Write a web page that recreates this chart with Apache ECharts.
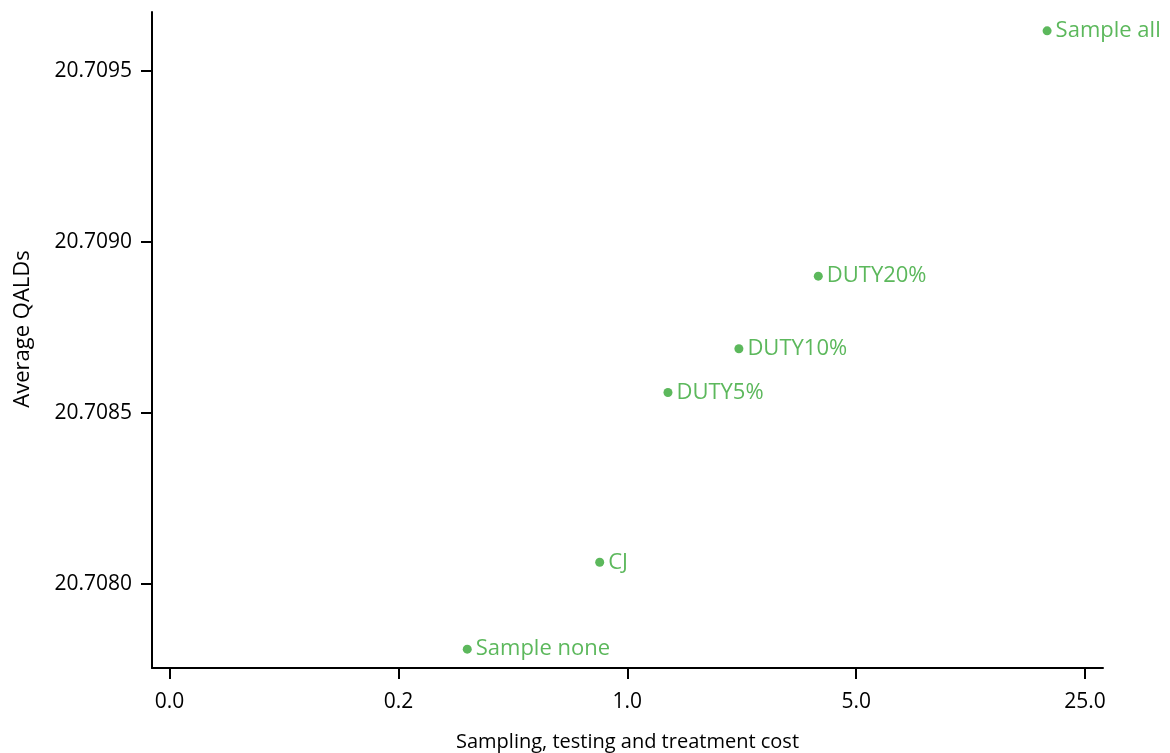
<!DOCTYPE html>
<html>
<head>
<meta charset="utf-8">
<script src="https://cdn.jsdelivr.net/npm/echarts@6/dist/echarts.min.js"></script>
<style>html,body{margin:0;padding:0;background:#fff;}#c{width:1170px;height:753px;}</style>
</head>
<body>
<div id="c"></div>
<script>
var names = ['Sample none', 'CJ', 'DUTY5%', 'DUTY10%', 'DUTY20%', 'Sample all'];
var costs = [0.3245, 0.8236, 1.331, 2.192, 3.831, 19.15];
var qalds = [20.70781, 20.708064, 20.70856, 20.708688, 20.70890, 20.709617];
var xTicks = [0.04, 0.2, 1, 5, 25];
var yTicks = [20.7080, 20.7085, 20.7090, 20.7095];

var green = '#5cb85c';
var font = 'Open Sans';
var data = names.map(function (n, i) { return { name: n, value: [costs[i], qalds[i]] }; });

var chart = echarts.init(document.getElementById('c'));
chart.setOption({
  animation: false,
  grid: { left: 152, right: 67, top: 12, bottom: 85, containLabel: false, outerBoundsMode: 'none' },
  xAxis: {
    type: 'log', logBase: 5, min: 0.03535, max: 28.37,
    name: 'Sampling, testing and treatment cost', nameLocation: 'middle', nameGap: 64,
    nameTextStyle: { fontFamily: font, fontSize: 20, color: '#000' },
    axisLine: { show: true, lineStyle: { color: '#000', width: 2 } },
    axisTick: { show: true, length: 11, lineStyle: { color: '#000', width: 2 }, customValues: xTicks },
    axisLabel: { fontFamily: font, fontSize: 21, color: '#000', margin: 24, customValues: xTicks,
      formatter: function (v) { return Number(v).toFixed(1); } },
    splitLine: { show: false }
  },
  yAxis: {
    type: 'value', min: 20.707755, max: 20.709672, scale: true,
    name: 'Average QALDs', nameLocation: 'middle', nameGap: 118,
    nameTextStyle: { fontFamily: font, fontSize: 22, color: '#000', padding: [0, 0, 0, 22] },
    axisLine: { show: true, lineStyle: { color: '#000', width: 2 } },
    axisTick: { show: true, length: 11, lineStyle: { color: '#000', width: 2 }, customValues: yTicks },
    axisLabel: { fontFamily: font, fontSize: 21, color: '#000', margin: 20, customValues: yTicks,
      formatter: function (v) { return Number(v).toFixed(4); } },
    splitLine: { show: false }
  },
  series: [{
    type: 'scatter', symbol: 'circle', symbolSize: 9,
    itemStyle: { color: green, opacity: 1 },
    label: { show: true, position: 'right', distance: 4, color: green, fontFamily: font, fontSize: 22,
      formatter: function (p) { return p.name; } },
    data: data
  }]
});
</script>
</body>
</html>
